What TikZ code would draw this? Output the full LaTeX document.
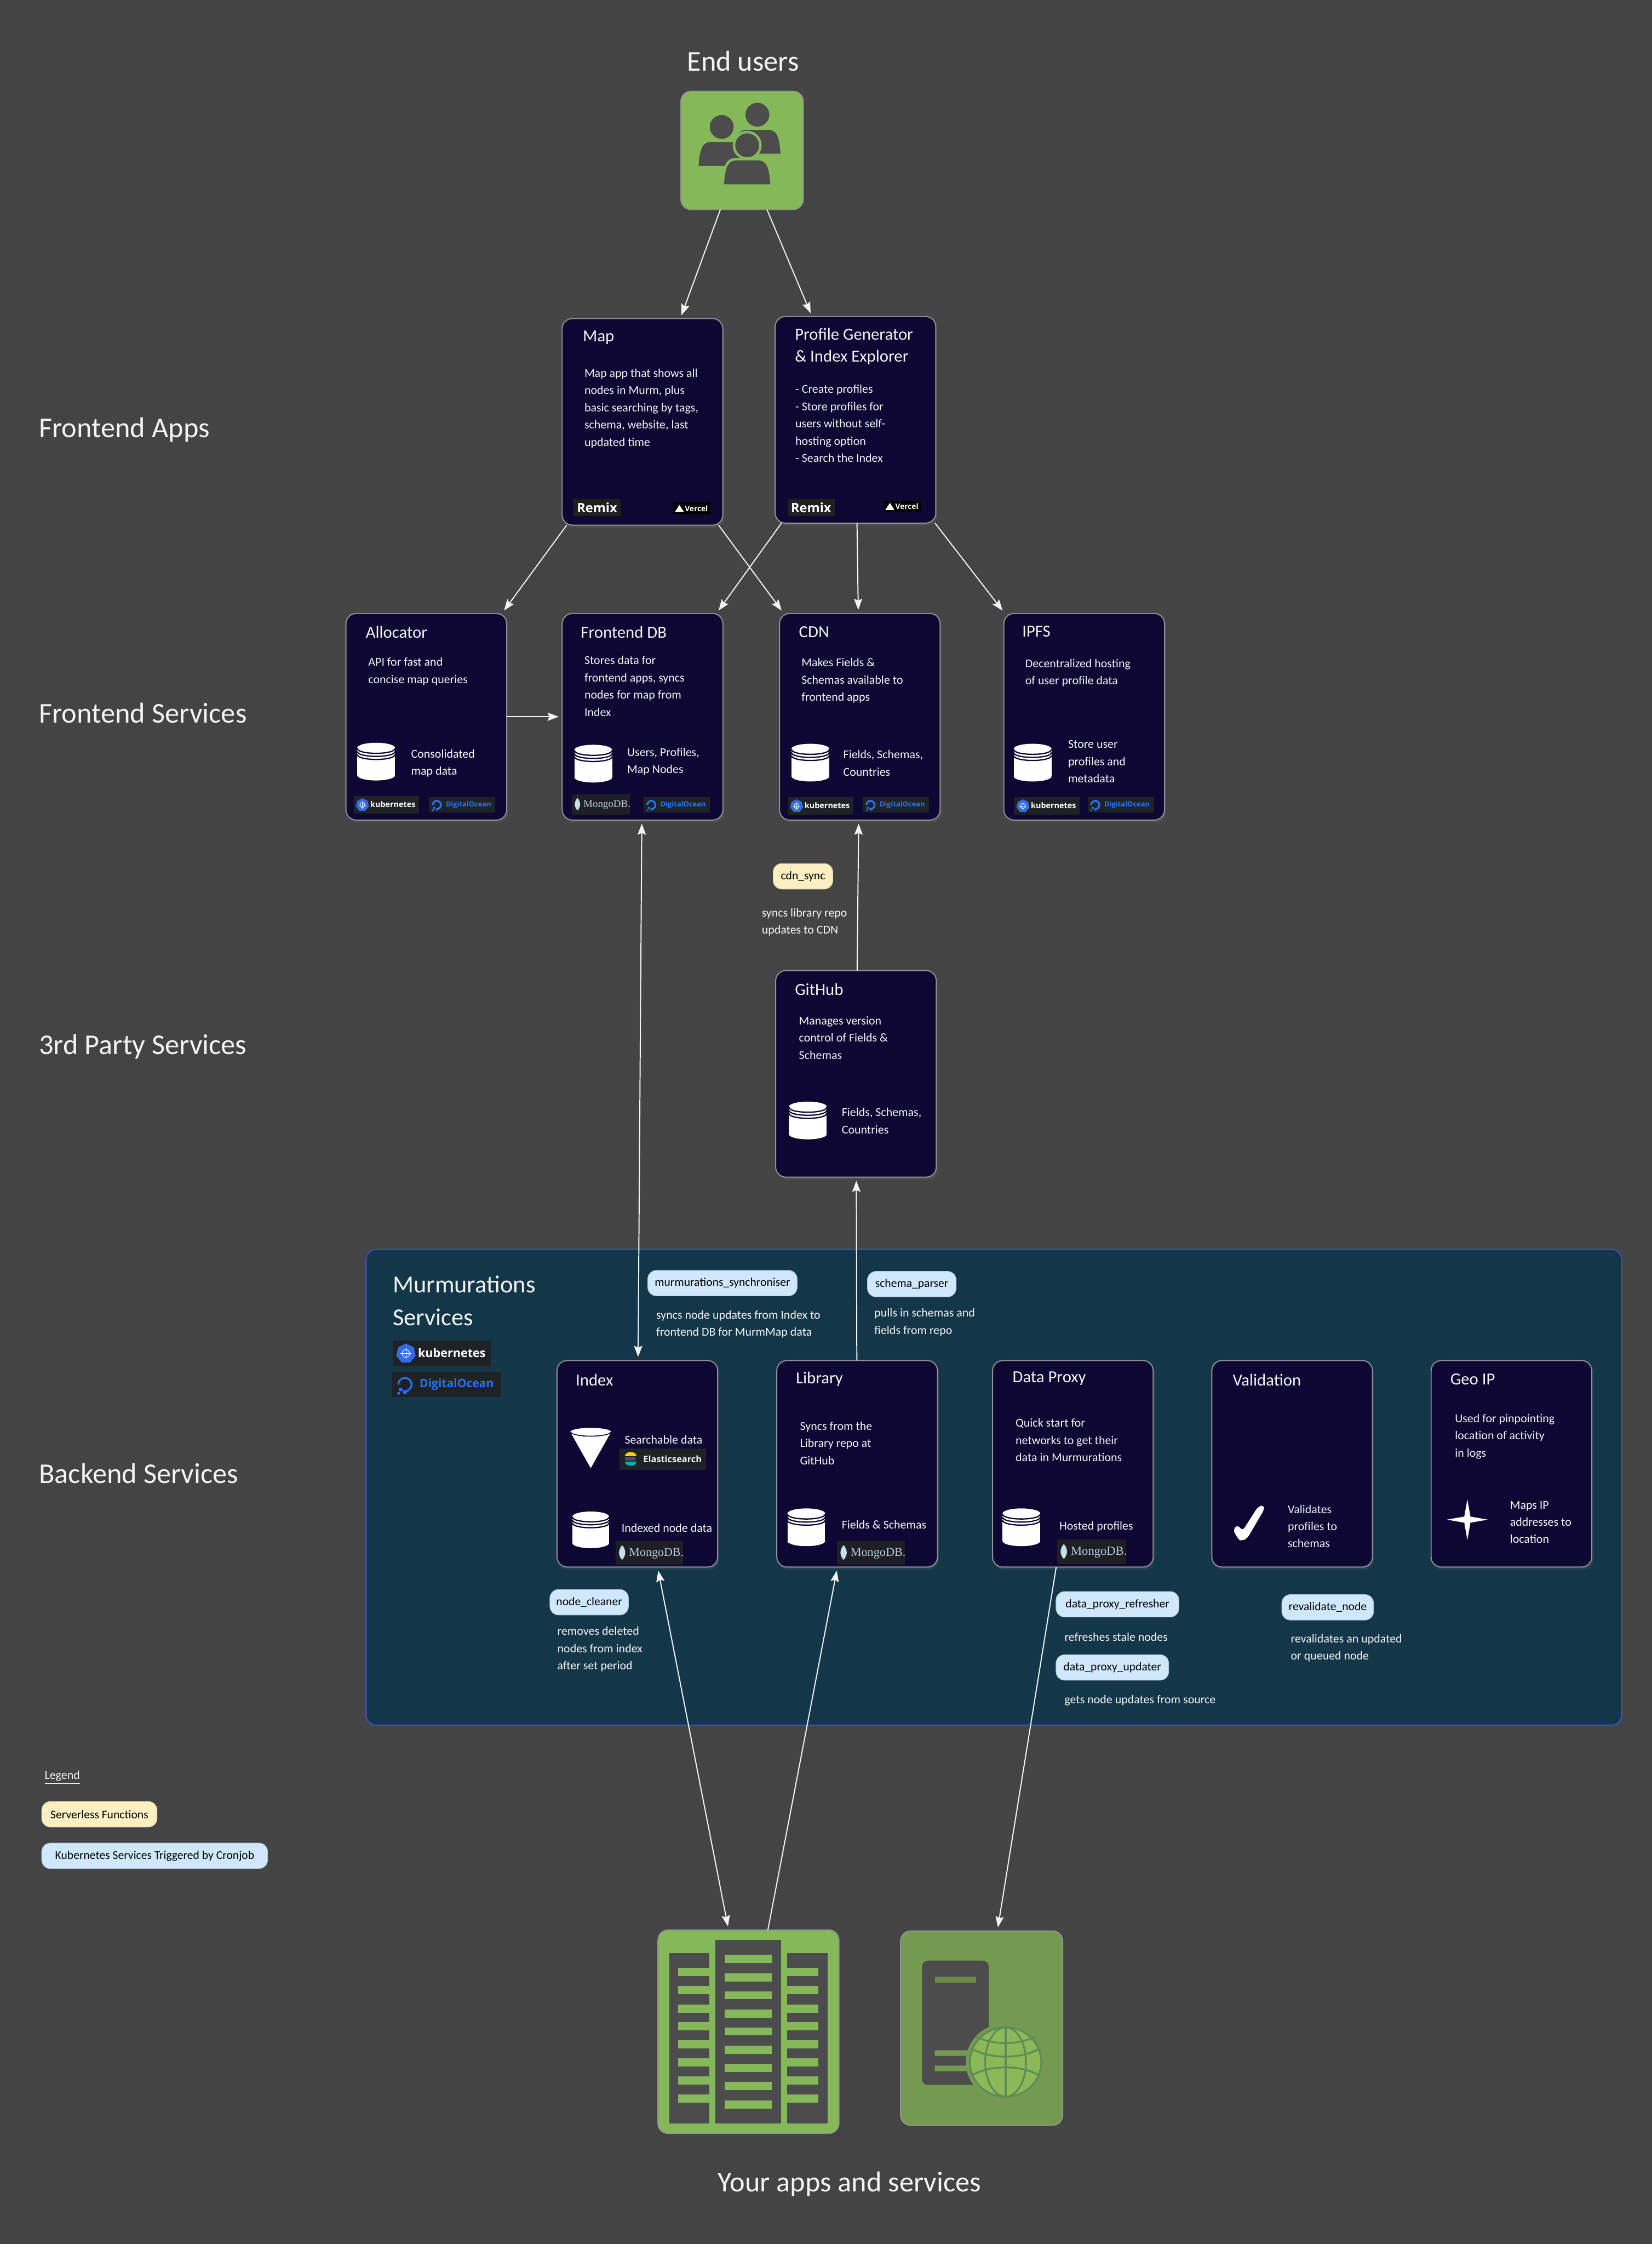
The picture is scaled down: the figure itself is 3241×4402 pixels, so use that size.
\documentclass[tikz,border=0pt]{standalone}
\usepackage{fontspec}
\setmainfont{Carlito}
\newfontfamily\logofont{Open Sans}
\newfontfamily\mongofont{Liberation Serif}
\usepackage{tikz}
\usetikzlibrary{arrows.meta,positioning,shapes.geometric,shadows}
\definecolor{pagebg}{HTML}{444444}
\definecolor{cardfill}{HTML}{0F0733}
\definecolor{cardline}{HTML}{929292}
\definecolor{panelfill}{HTML}{133648}
\definecolor{panelline}{HTML}{3F4FB5}
\definecolor{pillblue}{HTML}{CFE8FC}
\definecolor{pillyellow}{HTML}{FCF0C2}
\definecolor{inkwhite}{HTML}{F4F4F4}
\definecolor{appgreen}{HTML}{85B858}
\definecolor{srvgreen}{HTML}{739A50}
\definecolor{globegreen}{HTML}{8DB858}
\definecolor{globeline}{HTML}{5E8C58}
\definecolor{icondark}{HTML}{4C4C4C}
\definecolor{logodark}{HTML}{1F2224}
\definecolor{kubeblue}{HTML}{326CE5}
\definecolor{doblue}{HTML}{2474FF}
\definecolor{leafblue}{HTML}{C5DFEA}
\tikzset{
  card/.style={rectangle,draw=cardline,fill=cardfill,line width=.6pt,rounded corners=.2cm,minimum width=3.15cm,minimum height=4.05cm,inner sep=0pt,outer sep=0pt,drop shadow={shadow xshift=.03cm,shadow yshift=-.05cm,opacity=.18}},
  iconbox/.style={rectangle,draw=cardline,line width=.6pt,rounded corners=.2cm,inner sep=0pt,outer sep=0pt},
  heading/.style={text=inkwhite,font=\fontsize{16}{18}\selectfont,inner sep=0pt},
  cardtitle/.style={anchor=west,align=left,text=inkwhite,font=\fontsize{9.4}{12.2}\selectfont,inner sep=0pt},
  cardtext/.style={anchor=west,align=left,text=inkwhite,font=\fontsize{6.7}{9.6}\selectfont,inner sep=0pt},
  pill/.style={rectangle,rounded corners=.17cm,text=black,font=\fontsize{6.6}{8}\selectfont,minimum height=.5cm,inner sep=0pt},
  bluepill/.style={pill,fill=pillblue,draw=pillblue!85!black,line width=.3pt},
  yellowpill/.style={pill,fill=pillyellow,draw=pillyellow!88!black,line width=.3pt},
  flow/.style={->,draw=inkwhite,line width=.6pt,shorten >=2pt},
  flowboth/.style={<->,draw=inkwhite,line width=.6pt,shorten >=2pt,shorten <=2pt},
  logobox/.style={rectangle,fill=logodark,inner sep=0pt,outer sep=0pt},
  pics/kubelogo/.style={code={
    \node[logobox,minimum width=1.28cm,minimum height=.34cm] (-box) at (0,0) {};
    \node[regular polygon,regular polygon sides=7,fill=kubeblue,minimum size=.26cm,inner sep=0pt] (-wheel) at (-47,0) {};
    \draw[white,line width=.3pt] (-47,0) circle[radius=.05cm];
    \draw[white,line width=.25pt] (-54,0) -- (-40,0) (-47,-7) -- (-47,7);
    \node[anchor=west,inner sep=0pt,text=white,font=\logofont\bfseries\fontsize{4.4}{5}\selectfont] (-label) at (-32,-1) {kubernetes};
  }},
  pics/dologo/.style={code={
    \node[logobox,minimum width=1.3cm,minimum height=.3cm] (-box) at (0,0) {};
    \draw[doblue,line width=1pt] (-58,0) arc[start angle=180,end angle=-90,radius=.08cm];
    \fill[doblue] (-52,7) rectangle (-48,11) (-57,4) rectangle (-53,8) (-59,9) rectangle (-56,12);
    \node[anchor=west,inner sep=0pt,text=doblue,font=\logofont\bfseries\fontsize{3.95}{5}\selectfont] (-label) at (-33,0) {DigitalOcean};
  }},
  pics/mongologo/.style={code={
    \node[logobox,fill=logodark!90!cardfill,minimum width=1.14cm,minimum height=.4cm] (-box) at (0,0) {};
    \fill[leafblue] (-46,-13) .. controls (-38,-3) and (-40,5) .. (-46,12) .. controls (-52,5) and (-54,-3) .. (-46,-13);
    \node[anchor=west,inner sep=0pt,text=leafblue!80!gray,font=\mongofont\fontsize{5.8}{7}\selectfont] (-label) at (-35,1) {MongoDB.};
  }},
  pics/remixlogo/.style={code={
    \node[logobox,fill=black!88,minimum width=.93cm,minimum height=.33cm] (-box) at (0,0) {};
    \node[inner sep=0pt,text=white,font=\logofont\bfseries\fontsize{7.2}{8}\selectfont] (-label) at (0,0) {Remix};
  }},
  pics/vercellogo/.style={code={
    \node[logobox,fill=black,minimum width=.74cm,minimum height=.23cm] (-box) at (0,0) {};
    \fill[white] (-25,-7) -- (-16,7) -- (-34,7) -- cycle;
    \node[anchor=west,inner sep=0pt,text=white,font=\logofont\bfseries\fontsize{4.2}{5}\selectfont] (-label) at (-15,0) {Vercel};
  }},
  pics/elasticlogo/.style={code={
    \node[logobox,minimum width=1.69cm,minimum height=.41cm] (-box) at (0,0) {};
    \fill[yellow!70!orange] (-74,-6) .. controls (-74,-17) and (-52,-17) .. (-52,-6) -- cycle;
    \fill[black!65!blue!40!gray] (-74,-4) rectangle (-54,3);
    \fill[teal!60!cyan] (-74,5) -- (-52,5) .. controls (-52,16) and (-74,16) .. (-74,5) -- cycle;
    \node[anchor=west,inner sep=0pt,text=inkwhite,font=\logofont\bfseries\fontsize{5}{6}\selectfont] (-label) at (-39,0) {Elasticsearch};
  }},
  pics/cylinder/.style={code={
    \fill[white] (-37,-27) rectangle (37,27);
    \fill[white] (0,-27) ellipse[x radius=37,y radius=10];
    \fill[white] (0,27) ellipse[x radius=37,y radius=10];
    \foreach \yy in {-26,-20,-14}
      \draw[cardfill,line width=.7pt] (-37,\yy) .. controls (-37,\yy+13) and (37,\yy+13) .. (37,\yy);
  }},
  pics/person/.style={code={
    \filldraw[fill=icondark,draw=appgreen,line width=1.4pt] (-48,33) .. controls (-46,-8) and (-38,-19) .. (-20,-19) -- (20,-19) .. controls (38,-19) and (46,-8) .. (48,33) -- cycle;
    \filldraw[fill=icondark,draw=appgreen,line width=1.4pt] (0,-46) circle[radius=.26cm];
  }},
}
\begin{document}
\begin{tikzpicture}[x=.01cm,y=-.01cm,>={Stealth[length=6.2pt,width=4.6pt,inset=1pt]}]
  \path[use as bounding box,fill=pagebg] (0,0) rectangle (3241,4402);

  \node[heading] (endusers) at (1458,120) {End users};
  \node[heading] (yourapps) at (1667,4284) {Your apps and services};
  \node[heading,anchor=west] (frontapps) at (76,843) {Frontend Apps};
  \node[heading,anchor=west] (frontserv) at (76,1399) {Frontend Services};
  \node[heading,anchor=west] (thirdparty) at (76,2053) {3rd Party Services};
  \node[heading,anchor=west] (backserv) at (76,2890) {Backend Services};

  \node[rectangle,draw=panelline,fill=panelfill,line width=.7pt,rounded corners=.2cm,minimum width=24.62cm,minimum height=9.33cm,inner sep=0pt] (panel) at (1950,2917.5) {};
  \node[heading,anchor=west,align=left,font=\fontsize{13.6}{18.4}\selectfont] (murm) at (770,2552) {Murmurations\\Services};
  \pic[scale=1.5,transform shape] (kubepanel) at (867,2655) {kubelogo};
  \pic[scale=1.63,transform shape] (dopanel) at (876,2716) {dologo};

  \node[iconbox,fill=appgreen,minimum width=2.4cm,minimum height=2.32cm] (users) at (1456,295) {};
  \pic (personright) at (1486,271) {person};
  \pic (personleft) at (1416,295) {person};
  \pic (personfront) at (1466,331) {person};

  \node[card,minimum height=4.05cm] (map) at (1260.5,827.5) {};
  \node[card] (profile) at (1678.5,823.5) {};
  \node[card] (alloc) at (836.5,1406) {};
  \node[card,right=1.09cm of alloc] (fedb) {};
  \node[card,right=1.11cm of fedb] (cdn) {};
  \node[card,right=1.25cm of cdn] (ipfs) {};
  \node[card] (github) at (1679.5,2106.5) {};
  \node[card,drop shadow={opacity=0}] (index) at (1250.5,2871.5) {};
  \node[card,right=1.16cm of index] (library) {};
  \node[card,right=1.08cm of library] (dataproxy) {};
  \node[card,right=1.15cm of dataproxy] (validation) {};
  \node[card,right=1.15cm of validation] (geoip) {};

  \node[iconbox,fill=appgreen,minimum width=3.55cm,minimum height=3.99cm] (apps) at (1468.5,3985.5) {};
  \node[iconbox,fill=srvgreen,minimum width=3.18cm,minimum height=3.81cm] (server) at (1926,3978.5) {};

  \fill[icondark] (1313,3831) rectangle (1392,4165);
  \fill[icondark] (1404,3805) rectangle (1532,4165);
  \fill[icondark] (1544,3831) rectangle (1624,4165);
  \foreach \yy in {3843,3879,3914,3950,3985,4021,4056,4092,4128}
    \fill[appgreen] (1422,\yy-8) rectangle (1514,\yy+8);
  \foreach \yy in {3868,3904,3940,3975,4010,4046,4081,4117} {
    \fill[appgreen] (1330,\yy-8) rectangle (1392,\yy+8);
    \fill[appgreen] (1544,\yy-8) rectangle (1606,\yy+8);
  }

  \fill[icondark,rounded corners=.12cm] (1809,4090) -- (1809,3846) -- (1940,3846) -- (1940,4090) -- cycle;
  \fill[srvgreen!90!black] (1834,3878) rectangle (1915,3889);
  \fill[srvgreen] (1834,4022) rectangle (1915,4033) (1834,4052) rectangle (1915,4063);
  \fill[srvgreen] (1973,4045) ellipse[x radius=78,y radius=76];
  \fill[globegreen] (1973,4045) ellipse[x radius=70,y radius=68];
  \begin{scope}[globeline,line width=1pt]
    \draw (1973,4045) ellipse[x radius=70,y radius=68];
    \draw (1973,4045) ellipse[x radius=40,y radius=68];
    \draw (1973,3977) -- (1973,4113);
    \draw (1906,4018) .. controls (1940,4040) and (2006,4040) .. (2040,4018);
    \draw (1916,3995) .. controls (1945,4012) and (2001,4012) .. (2030,3995);
    \draw (1906,4072) .. controls (1940,4050) and (2006,4050) .. (2040,4072);
  \end{scope}

  \node[cardtitle] (maptitle) at (1143,662) {Map};
  \node[cardtext] (maptext) at (1146,801) {Map app that shows all\\nodes in Murm, plus\\basic searching by tags,\\schema, website, last\\updated time};
  \pic (remixmap) at (1171.5,995.5) {remixlogo};
  \pic (vercelmap) at (1358,997.5) {vercellogo};

  \node[cardtitle] (profiletitle) at (1559,680) {Profile Generator\\\& Index Explorer};
  \node[cardtext] (profiletext) at (1560,831) {- Create profiles\\- Store profiles for\\users without self-\\hosting option\\- Search the Index};
  \pic (remixprofile) at (1591.5,995.5) {remixlogo};
  \pic (vercelprofile) at (1771,993.5) {vercellogo};

  \node[cardtitle] (alloctitle) at (717,1240) {Allocator};
  \node[cardtext] (alloctext) at (722,1317) {API for fast and\\concise map queries};
  \pic (cylalloc) at (738,1494) {cylinder};
  \node[cardtext] (allocdata) at (806,1497) {Consolidated\\map data};
  \pic (kubealloc) at (758,1579) {kubelogo};
  \pic (doalloc) at (907,1579) {dologo};

  \node[cardtitle] (fedbtitle) at (1139,1240) {Frontend DB};
  \node[cardtext] (fedbtext) at (1146,1346) {Stores data for\\frontend apps, syncs\\nodes for map from\\Index};
  \pic (cylfedb) at (1164,1498) {cylinder};
  \node[cardtext] (fedbdata) at (1230,1494) {Users, Profiles,\\Map Nodes};
  \pic (mongofedb) at (1179,1578) {mongologo};
  \pic (dofedb) at (1328,1579) {dologo};

  \node[cardtitle] (cdntitle) at (1567,1240) {CDN};
  \node[cardtext] (cdntext) at (1572,1335) {Makes Fields \&\\Schemas available to\\frontend apps};
  \pic (cylcdn) at (1590,1496) {cylinder};
  \node[cardtext] (cdndata) at (1654,1497) {Fields, Schemas,\\Countries};
  \pic (kubecdn) at (1610,1581) {kubelogo};
  \pic (docdn) at (1758,1579) {dologo};

  \node[cardtitle] (ipfstitle) at (2005,1239) {IPFS};
  \node[cardtext] (ipfstext) at (2011,1320) {Decentralized hosting\\of user profile data};
  \pic (cylipfs) at (2026,1496) {cylinder};
  \node[cardtext] (ipfsdata) at (2095,1494) {Store user\\profiles and\\metadata};
  \pic (kubeipfs) at (2054,1581) {kubelogo};
  \pic (doipfs) at (2199,1579) {dologo};

  \node[yellowpill,minimum width=1.17cm] (cdnsync) at (1575.5,1719) {cdn\_sync};
  \node[cardtext] (cdnsynctext) at (1494,1809) {syncs library repo\\updates to CDN};

  \node[cardtitle] (githubtitle) at (1559,1941) {GitHub};
  \node[cardtext] (githubtext) at (1567,2036) {Manages version\\control of Fields \&\\Schemas};
  \pic (cylgithub) at (1585,2198) {cylinder};
  \node[cardtext] (githubdata) at (1651,2199) {Fields, Schemas,\\Countries};

  \node[bluepill,minimum width=2.93cm] (murmsync) at (1417.5,2517) {murmurations\_synchroniser};
  \node[cardtext] (murmsynctext) at (1287,2598) {syncs node updates from Index to\\frontend DB for MurmMap data};
  \node[bluepill,minimum width=1.74cm] (schemaparser) at (1789,2519) {schema\_parser};
  \node[cardtext] (schemaparsertext) at (1715,2594) {pulls in schemas and\\fields from repo};

  \node[cardtitle] (indextitle) at (1129,2707) {Index};
  \fill[white] (1119,2809) -- (1159,2880) -- (1199,2809) -- cycle;
  \fill[white] (1159,2809) ellipse[x radius=40,y radius=8];
  \draw[cardfill,line width=.5pt] (1119,2809) .. controls (1125,2820) and (1193,2820) .. (1199,2809);
  \node[cardtext] (indexsearch) at (1225,2824) {Searchable data};
  \pic (elasticindex) at (1300.5,2862.5) {elasticlogo};
  \pic[scale=.97] (cylindex) at (1159,3001) {cylinder};
  \node[cardtext] (indexdata) at (1219,2997) {Indexed node data};
  \pic[scale=1.16,transform shape] (mongoindex) at (1274,3046) {mongologo};

  \node[cardtitle] (librarytitle) at (1561,2705) {Library};
  \node[cardtext] (librarytext) at (1569,2831) {Syncs from the\\Library repo at\\GitHub};
  \pic (cyllibrary) at (1582,2996) {cylinder};
  \node[cardtext] (librarydata) at (1651,2991) {Fields \& Schemas};
  \pic[scale=1.17,transform shape] (mongolibrary) at (1709,3046) {mongologo};

  \node[cardtitle] (proxytitle) at (1986,2704) {Data Proxy};
  \node[cardtext] (proxytext) at (1992,2825) {Quick start for\\networks to get their\\data in Murmurations};
  \pic (cylproxy) at (2004,2996) {cylinder};
  \node[cardtext] (proxydata) at (2078,2995) {Hosted profiles};
  \pic[scale=1.19,transform shape] (mongoproxy) at (2142,3044) {mongologo};

  \node[cardtitle] (validationtitle) at (2418,2707) {Validation};
  \fill[white,rounded corners=2pt] (2419,3001) -- (2428,2991) -- (2438,3003) -- (2468,2956) -- (2479,2952) -- (2481,2960) -- (2447,3018) -- (2436,3023) -- (2430,3020) -- cycle;
  \node[cardtext] (validationdata) at (2526,2994) {Validates\\profiles to\\schemas};

  \node[cardtitle] (geotitle) at (2845,2706) {Geo IP};
  \node[cardtext] (geotext) at (2854,2818) {Used for pinpointing\\location of activity\\in logs};
  \fill[white] (2879,2941) -- (2885,2975) -- (2919,2981) -- (2885,2987) -- (2879,3021) -- (2873,2987) -- (2839,2981) -- (2873,2975) -- cycle;
  \node[cardtext] (geodata) at (2962,2986) {Maps IP\\addresses to\\location};

  \node[bluepill,minimum width=1.54cm] (nodecleaner) at (1156,3143) {node\_cleaner};
  \node[cardtext] (nodecleanertext) at (1093,3235) {removes deleted\\nodes from index\\after set period};
  \node[bluepill,minimum width=2.41cm] (refresher) at (2192.5,3147) {data\_proxy\_refresher};
  \node[cardtext] (refreshertext) at (2088,3211) {refreshes stale nodes};
  \node[bluepill,minimum width=2.21cm] (updater) at (2182.5,3271) {data\_proxy\_updater};
  \node[cardtext] (updatertext) at (2088,3336) {gets node updates from source};
  \node[bluepill,minimum width=1.8cm] (revalidate) at (2605,3153) {revalidate\_node};
  \node[cardtext] (revalidatetext) at (2532,3233) {revalidates an updated\\or queued node};

  \node[cardtext] (legend) at (87,3487) {\underline{Legend}};
  \node[yellowpill,minimum width=2.26cm] (legendyellow) at (195,3559) {Serverless Functions};
  \node[bluepill,minimum width=4.43cm] (legendblue) at (303.5,3640.5) {Kubernetes Services Triggered by Cronjob};

  \draw[flow] (users) -- (map);
  \draw[flow] (users) -- (profile);
  \draw[flow] (map) -- (alloc);
  \draw[flow] (map) -- (cdn);
  \draw[flow] (profile) -- (fedb);
  \draw[flow] (profile) -- (cdn);
  \draw[flow] (profile) -- (ipfs);
  \draw[flow] (alloc) -- (fedb);
  \draw[flow] (github) -- (cdn);
  \draw[flow] (library) -- (github);
  \draw[flowboth] (fedb) -- (index);
  \draw[flowboth] (index) -- (apps);
  \draw[flow] (apps) -- (library);
  \draw[flow] (dataproxy) -- (server);
\end{tikzpicture}
\end{document}
